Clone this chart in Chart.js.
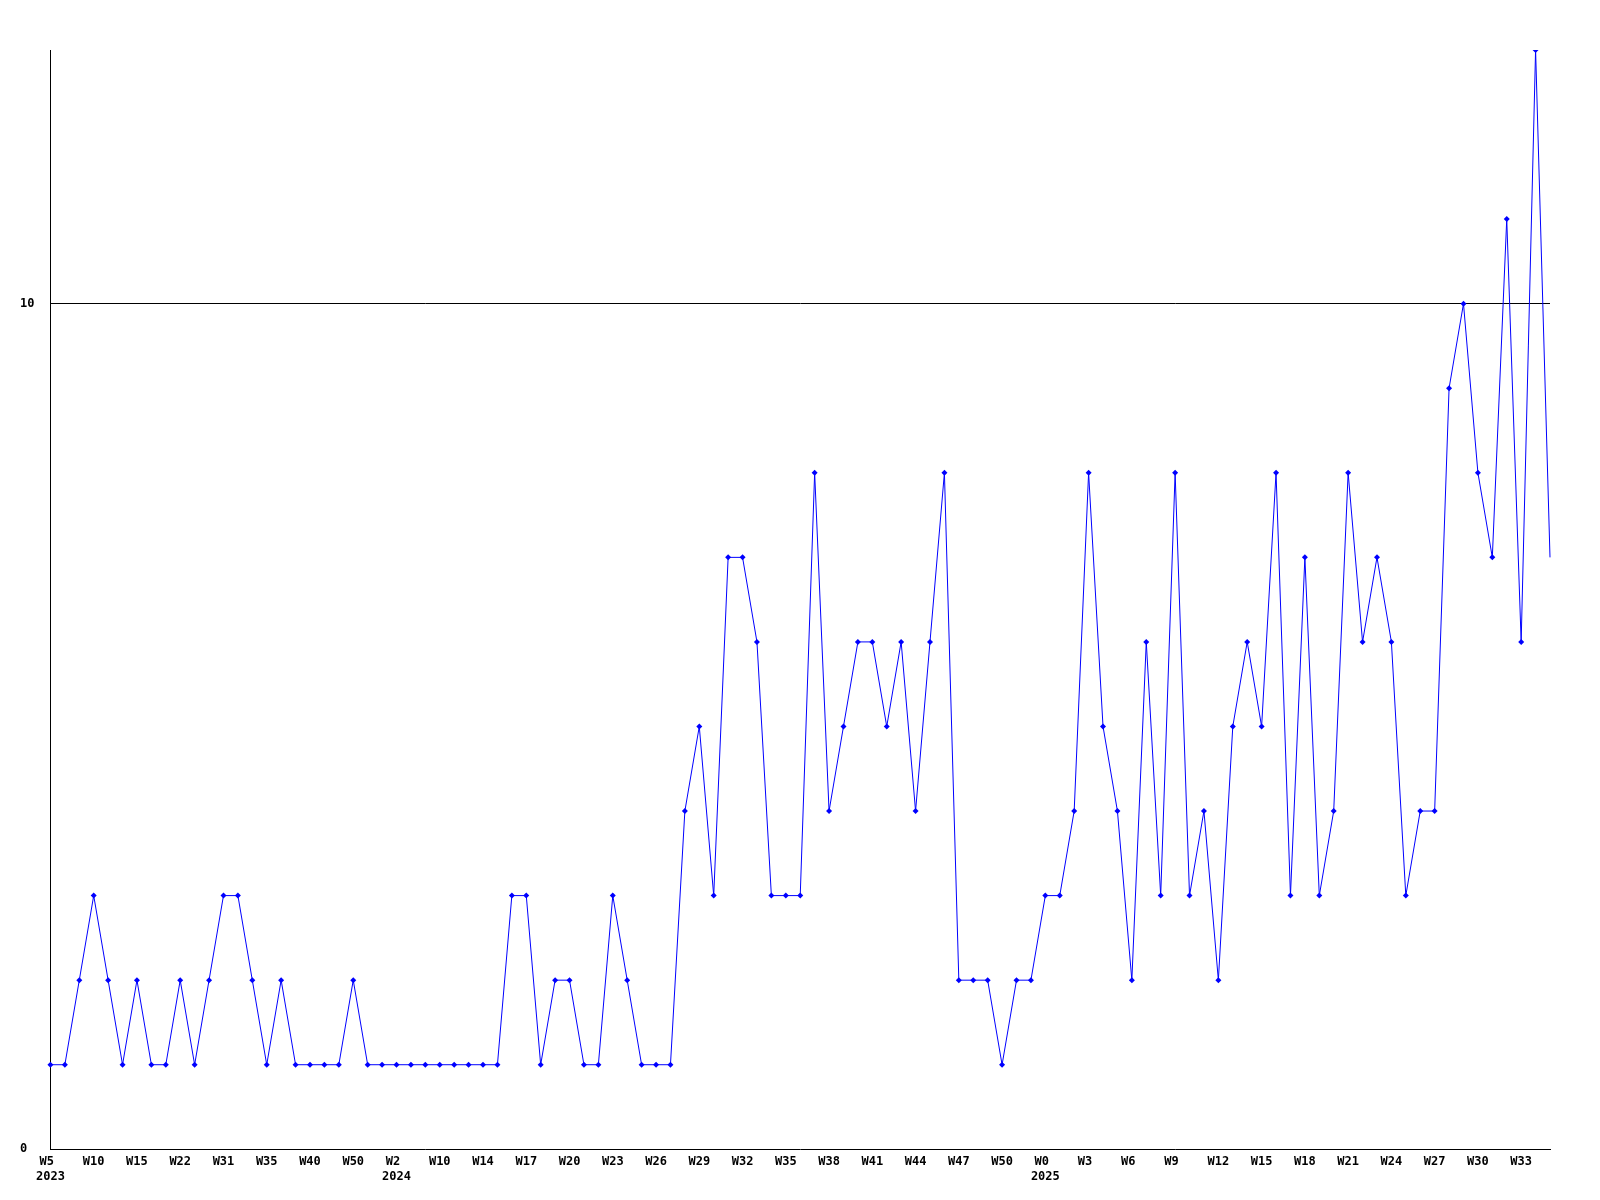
<!DOCTYPE html>
<html>
<head>
<meta charset="utf-8">
<script src="https://cdn.jsdelivr.net/npm/chart.js@4"></script>
<style>
  body { margin: 0; background: #fff; }
  canvas { display: block; }
</style>
</head>
<body>
<canvas id="weekly" width="1600" height="1200"></canvas>
<script>
// week label for every point (only every 3rd one is shown on the axis)
var weeks = [
  'W5','W6','W8','W10','W12','W13','W15','W17','W20','W22','W25','W28',
  'W31','W33','W34','W35','W37','W38','W40','W43','W47','W50','W51','W52',
  'W2','W5','W8','W10','W12','W13','W14','W15','W16','W17','W18','W19',
  'W20','W21','W22','W23','W24','W25','W26','W27','W28','W29','W30','W31',
  'W32','W33','W34','W35','W36','W37','W38','W39','W40','W41','W42','W43',
  'W44','W45','W46','W47','W48','W49','W50','W51','W52',
  'W0','W1','W2','W3','W4','W5','W6','W7','W8','W9','W10','W11','W12',
  'W13','W14','W15','W16','W17','W18','W19','W20','W21','W22','W23','W24',
  'W25','W26','W27','W28','W29','W30','W31','W32','W33','W34','W35'
];
// year shown under the first week of each year
var yearStarts = [0, 24, 69];
var yearNames = ['2023', '2024', '2025'];

var counts = [
  1,1,2,3,2,1,2,1,1,2,1,2,3,3,2,1,2,1,1,1,1,2,1,1,
  1,1,1,1,1,1,1,1,3,3,1,2,2,1,1,3,2,1,1,1,4,5,3,7,
  7,6,3,3,3,8,4,5,6,6,5,6,4,6,8,2,2,2,1,2,2,3,3,4,
  8,5,4,2,6,3,8,3,4,2,5,6,5,8,3,7,3,4,8,6,7,6,3,4,
  4,9,10,8,7,11,6,13,7
];

var yTicks = [0, 10];

var tickFont = { family: "'DejaVu Sans Mono'", size: 12, weight: 'bold', lineHeight: 1.28 };

var ctx = document.getElementById('weekly');
var weeklyChart = new Chart(ctx, {
  type: 'line',
  data: {
    labels: weeks,
    datasets: [{
      data: counts,
      borderColor: '#0000ff',
      backgroundColor: '#0000ff',
      borderWidth: 1,
      tension: 0,
      fill: false,
      pointStyle: 'rectRot',
      pointBorderWidth: 0,
      pointRadius: function(c) { return c.dataIndex === counts.length - 1 ? 0 : 3; }
    }]
  },
  options: {
    responsive: false,
    animation: false,
    layout: { padding: { left: 20, right: 50, top: 50, bottom: 10 } },
    plugins: { legend: { display: false }, tooltip: { enabled: false } },
    scales: {
      x: {
        type: 'category',
        offset: false,
        grid: { display: false, drawTicks: false },
        border: { display: true, color: '#000', width: 1 },
        ticks: {
          autoSkip: false,
          maxRotation: 0,
          minRotation: 0,
          padding: 5,
          color: '#000',
          font: tickFont,
          callback: function(val, i) {
            if (i % 3 !== 0) return '';
            var w = weeks[i].padEnd(3, ' ');
            var y = yearStarts.indexOf(i);
            return y >= 0 ? [w, yearNames[y]] : w;
          }
        }
      },
      y: {
        min: 0,
        max: 13,
        afterBuildTicks: function(axis) {
          axis.ticks = yTicks.map(function(v) { return { value: v }; });
        },
        grid: {
          drawTicks: false,
          color: function(c) { return c.tick && c.tick.value === 10 ? '#000' : 'rgba(0,0,0,0)'; },
          lineWidth: 1
        },
        border: { display: true, color: '#000', width: 1 },
        ticks: {
          crossAlign: 'far',
          padding: 8,
          color: '#000',
          font: tickFont
        }
      }
    }
  }
});
</script>
</body>
</html>
